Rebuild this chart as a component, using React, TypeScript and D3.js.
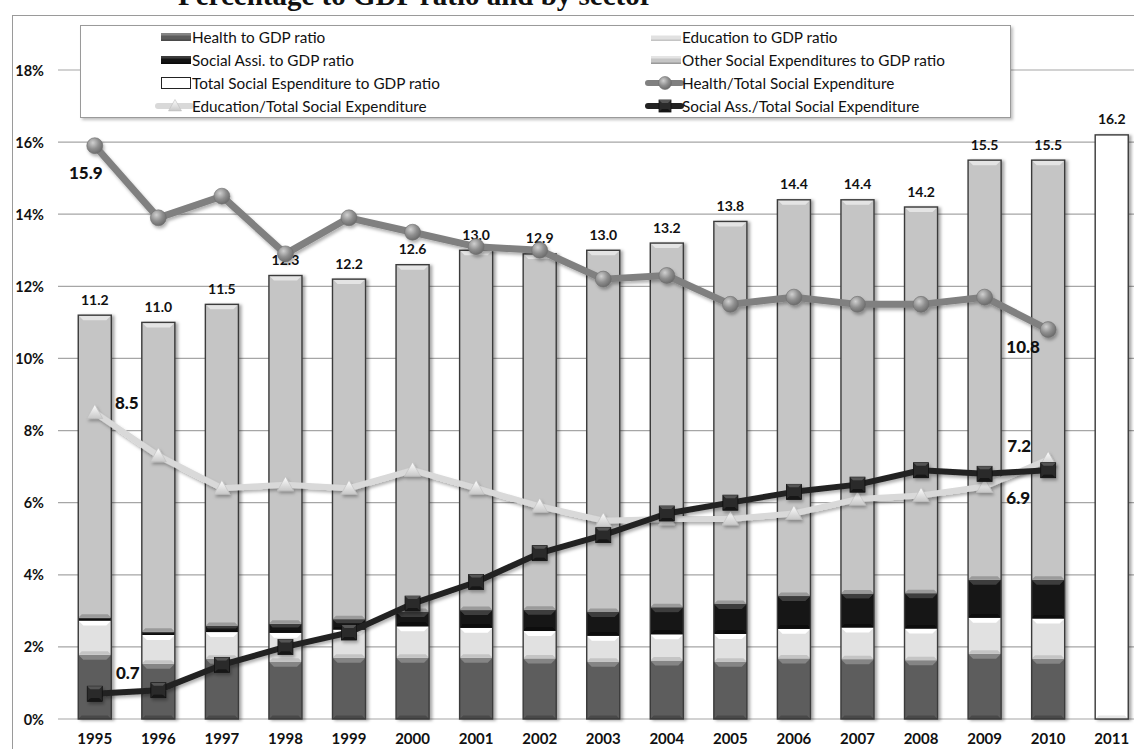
import React from "react";
import * as d3 from "d3";

// Years on the category axis
const years = [
  "1995", "1996", "1997", "1998", "1999", "2000", "2001", "2002", "2003",
  "2004", "2005", "2006", "2007", "2008", "2009", "2010", "2011",
];

// Total social expenditure to GDP ratio (%), labelled above each bar
const totalRatio = [
  11.2, 11.0, 11.5, 12.3, 12.2, 12.6, 13.0, 12.9, 13.0, 13.2, 13.8, 14.4, 14.4,
  14.2, 15.5, 15.5, 16.2,
];

// Components of the stacked bars, 1995-2010 (% of GDP)
const healthGdp = [
  1.78, 1.53, 1.67, 1.59, 1.7, 1.7, 1.7, 1.68, 1.59, 1.62, 1.59, 1.68, 1.66,
  1.63, 1.81, 1.67,
];
const educationGdp = [
  0.95, 0.8, 0.74, 0.8, 0.78, 0.87, 0.83, 0.76, 0.72, 0.73, 0.77, 0.82, 0.88,
  0.88, 1.0, 1.12,
];
const socialAssiGdp = [
  0.08, 0.09, 0.17, 0.25, 0.29, 0.4, 0.49, 0.59, 0.66, 0.75, 0.83, 0.91, 0.94,
  0.98, 1.05, 1.07,
];
const otherGdp = [
  8.39, 8.58, 8.92, 9.66, 9.43, 9.63, 9.98, 9.87, 10.03, 10.1, 10.61, 10.99,
  10.92, 10.71, 11.64, 11.64,
];

// Shares of total social expenditure (%), 1995-2010
const healthShare = [
  15.9, 13.9, 14.5, 12.9, 13.9, 13.5, 13.1, 13.0, 12.2, 12.3, 11.5, 11.7, 11.5,
  11.5, 11.7, 10.8,
];
const educationShare = [
  8.5, 7.3, 6.4, 6.5, 6.4, 6.9, 6.4, 5.9, 5.5, 5.55, 5.55, 5.7, 6.1, 6.2, 6.45,
  7.2,
];
const socialShare = [
  0.7, 0.8, 1.5, 2.0, 2.4, 3.2, 3.8, 4.6, 5.1, 5.7, 6.0, 6.3, 6.5, 6.9, 6.8,
  6.9,
];

const yTicks = [0, 2, 4, 6, 8, 10, 12, 14, 16, 18];

const titleText = "Percentage to GDP ratio and by sector";

const legendItems = [
  { label: "Health to GDP ratio", kind: "bar", key: "health" },
  { label: "Education to GDP ratio", kind: "bar", key: "education" },
  { label: "Social Assi. to GDP ratio", kind: "bar", key: "social" },
  { label: "Other Social Expenditures to GDP ratio", kind: "bar", key: "other" },
  { label: "Total Social Espenditure to GDP ratio", kind: "bar", key: "total" },
  { label: "Health/Total Social Expenditure", kind: "line", key: "healthLine" },
  { label: "Education/Total Social Expenditure", kind: "line", key: "eduLine" },
  { label: "Social Ass./Total Social Expenditure", kind: "line", key: "socLine" },
];

type SegStyle = { fill: string; light: string; dark: string };

const segStyles: Record<string, SegStyle> = {
  health: { fill: "#5d5d5d", light: "#858585", dark: "#4a4a4a" },
  education: { fill: "#e1e1e1", light: "#ffffff", dark: "#c4c4c4" },
  social: { fill: "#141414", light: "#3c3c3c", dark: "#0a0a0a" },
  other: { fill: "#c5c5c5", light: "#e4e4e4", dark: "#9a9a9a" },
  total: { fill: "#ffffff", light: "#ffffff", dark: "#e6e6e6" },
};

const FONT = "Lato, 'Open Sans', sans-serif";

function Segment({
  x,
  w,
  yTop,
  yBot,
  st,
}: {
  x: number;
  w: number;
  yTop: number;
  yBot: number;
  st: SegStyle;
}) {
  const h = yBot - yTop;
  if (h <= 0) return null;
  const b = Math.min(5, h * 0.4);
  const bb = Math.min(3.5, h * 0.25);
  return (
    <g>
      <rect x={x} y={yTop} width={w} height={h} fill={st.fill} />
      <polygon
        points={`${x},${yTop} ${x + w},${yTop} ${x + w - b},${yTop + b} ${x + b},${yTop + b}`}
        fill={st.light}
      />
      <polygon
        points={`${x},${yBot} ${x + w},${yBot} ${x + w - bb},${yBot - bb} ${x + bb},${yBot - bb}`}
        fill={st.dark}
      />
    </g>
  );
}

function CircleMarker({ cx, cy, r = 8 }: { cx: number; cy: number; r?: number }) {
  return <circle cx={cx} cy={cy} r={r} fill="url(#sphere)" stroke="#6e6e6e" strokeWidth={0.6} />;
}

function TriangleMarker({ cx, cy, s = 8 }: { cx: number; cy: number; s?: number }) {
  const pts = `${cx},${cy - s} ${cx + s},${cy + s * 0.75} ${cx - s},${cy + s * 0.75}`;
  return <polygon points={pts} fill="url(#triGrad)" stroke="#bdbdbd" strokeWidth={0.6} />;
}

function SquareMarker({ cx, cy, s = 7.5 }: { cx: number; cy: number; s?: number }) {
  const i = 3;
  return (
    <g>
      <rect x={cx - s} y={cy - s} width={2 * s} height={2 * s} fill="#2a2a2a" stroke="#111" strokeWidth={0.8} />
      <polygon
        points={`${cx - s},${cy - s} ${cx + s},${cy - s} ${cx + s - i},${cy - s + i} ${cx - s + i},${cy - s + i}`}
        fill="#555"
      />
      <polygon
        points={`${cx - s},${cy + s} ${cx + s},${cy + s} ${cx + s - i},${cy + s - i} ${cx - s + i},${cy + s - i}`}
        fill="#151515"
      />
    </g>
  );
}

export default function App() {
  const W = 1134;
  const H = 749;

  const x = d3
    .scaleBand<string>()
    .domain(years)
    .range([63, 1143.5])
    .paddingInner(0.48)
    .paddingOuter(0.24);
  const y = d3.scaleLinear().domain([0, 18]).range([719, 70]);
  const bw = x.bandwidth();
  const cx = (yr: string) => (x(yr) as number) + bw / 2;

  const stackYears = years.slice(0, healthGdp.length);
  const rows = stackYears.map((yr, i) => ({
    year: yr,
    health: healthGdp[i],
    education: educationGdp[i],
    social: socialAssiGdp[i],
    other: otherGdp[i],
  }));
  const keys = ["health", "education", "social", "other"];
  const stacked = d3.stack<any>().keys(keys)(rows);

  const lineGen = d3
    .line<number>()
    .x((_, i) => cx(stackYears[i]))
    .y((v) => y(v));

  const lastI = stackYears.length - 1;
  const lastX = cx(stackYears[lastI]);

  return (
    <svg
      width={W}
      height={H}
      style={{ position: "absolute", left: 0, top: 0, background: "#fff" }}
    >
      <defs>
        <radialGradient id="sphere" cx="38%" cy="32%" r="70%">
          <stop offset="0%" stopColor="#d0d0d0" />
          <stop offset="55%" stopColor="#8e8e8e" />
          <stop offset="100%" stopColor="#6a6a6a" />
        </radialGradient>
        <linearGradient id="triGrad" x1="0" y1="0" x2="0" y2="1">
          <stop offset="0%" stopColor="#ffffff" />
          <stop offset="100%" stopColor="#c8c8c8" />
        </linearGradient>
        <filter id="barShadow" x="-30%" y="-5%" width="160%" height="110%">
          <feDropShadow dx="2.5" dy="1" stdDeviation="1.6" floodColor="#000" floodOpacity="0.35" />
        </filter>
        <filter id="lineShadow" x="-5%" y="-20%" width="110%" height="140%">
          <feDropShadow dx="1.5" dy="2.5" stdDeviation="1.8" floodColor="#000" floodOpacity="0.3" />
        </filter>
        <filter id="boxShadow" x="-5%" y="-10%" width="110%" height="130%">
          <feDropShadow dx="2" dy="2" stdDeviation="1.5" floodColor="#000" floodOpacity="0.25" />
        </filter>
      </defs>

      {/* title, running off the top of the frame */}
      <text
        x={178}
        y={5}
        fontFamily="'Liberation Serif', 'DejaVu Serif', serif"
        fontWeight="bold"
        fontSize={29}
        fill="#111"
      >
        {titleText}
      </text>

      {/* chart area frame */}
      <line x1={12} y1={15.5} x2={W} y2={15.5} stroke="#9a9a9a" strokeWidth={1} />
      <line x1={12.5} y1={15} x2={12.5} y2={H} stroke="#9a9a9a" strokeWidth={1} />

      {/* gridlines and y ticks */}
      {yTicks.map((t) => (
        <g key={t}>
          <line x1={58} x2={W} y1={y(t)} y2={y(t)} stroke="#a6a6a6" strokeWidth={1.2} />
          <text
            x={44}
            y={y(t)}
            textAnchor="end"
            dominantBaseline="central"
            fontFamily={FONT}
            fontWeight="bold"
            fontSize={14.5}
            fill="#111"
          >
            {t}%
          </text>
        </g>
      ))}

      {/* stacked bars 1995-2010 */}
      <g filter="url(#barShadow)">
        {stackYears.map((yr, i) => {
          const bx = x(yr) as number;
          return (
            <g key={yr}>
              {stacked.map((layer) => {
                const d = layer[i];
                return (
                  <Segment
                    key={layer.key}
                    x={bx}
                    w={bw}
                    yTop={y(d[1])}
                    yBot={y(d[0])}
                    st={segStyles[layer.key]}
                  />
                );
              })}
              <rect
                x={bx}
                y={y(stacked[stacked.length - 1][i][1])}
                width={bw}
                height={y(0) - y(stacked[stacked.length - 1][i][1])}
                fill="none"
                stroke="#3a3a3a"
                strokeWidth={1.4}
              />
            </g>
          );
        })}
        {/* total-only bar for the final year */}
        {years.slice(stackYears.length).map((yr) => {
          const i = years.indexOf(yr);
          const bx = x(yr) as number;
          return (
            <g key={yr}>
              <Segment x={bx} w={bw} yTop={y(totalRatio[i])} yBot={y(0)} st={segStyles.total} />
              <rect
                x={bx}
                y={y(totalRatio[i])}
                width={bw}
                height={y(0) - y(totalRatio[i])}
                fill="none"
                stroke="#3a3a3a"
                strokeWidth={1.4}
              />
            </g>
          );
        })}
      </g>

      {/* total labels */}
      {years.map((yr, i) => (
        <text
          key={yr}
          x={cx(yr)}
          y={y(totalRatio[i]) - 16}
          textAnchor="middle"
          dominantBaseline="central"
          fontFamily={FONT}
          fontWeight="bold"
          fontSize={14}
          fill="#111"
        >
          {totalRatio[i].toFixed(1)}
        </text>
      ))}

      {/* share lines */}
      <g filter="url(#lineShadow)">
        <path d={lineGen(healthShare) || ""} fill="none" stroke="#808080" strokeWidth={7} strokeLinejoin="round" />
        {healthShare.map((v, i) => (
          <CircleMarker key={i} cx={cx(stackYears[i])} cy={y(v)} />
        ))}
      </g>
      <g filter="url(#lineShadow)">
        <path d={lineGen(educationShare) || ""} fill="none" stroke="#d9d9d9" strokeWidth={6} strokeLinejoin="round" />
        {educationShare.map((v, i) => (
          <TriangleMarker key={i} cx={cx(stackYears[i])} cy={y(v)} />
        ))}
      </g>
      <g filter="url(#lineShadow)">
        <path d={lineGen(socialShare) || ""} fill="none" stroke="#222" strokeWidth={6} strokeLinejoin="round" />
        {socialShare.map((v, i) => (
          <SquareMarker key={i} cx={cx(stackYears[i])} cy={y(v)} />
        ))}
      </g>

      {/* first and last values of each share line */}
      {[
        { v: healthShare[0], px: cx(stackYears[0]) - 9, py: y(healthShare[0]) + 27 },
        { v: educationShare[0], px: cx(stackYears[0]) + 32, py: y(educationShare[0]) - 10 },
        { v: socialShare[0], px: cx(stackYears[0]) + 33, py: y(socialShare[0]) - 21 },
        { v: healthShare[lastI], px: lastX - 25, py: y(healthShare[lastI]) + 17 },
        { v: educationShare[lastI], px: lastX - 29, py: y(educationShare[lastI]) - 14 },
        { v: socialShare[lastI], px: lastX - 30, py: y(socialShare[lastI]) + 27 },
      ].map((l, k) => (
        <text
          key={k}
          x={l.px}
          y={l.py}
          textAnchor="middle"
          dominantBaseline="central"
          fontFamily={FONT}
          fontWeight="900"
          fontSize={17}
          fill="#111"
        >
          {l.v.toFixed(1)}
        </text>
      ))}

      {/* year labels */}
      {years.map((yr) => (
        <text
          key={yr}
          x={cx(yr)}
          y={738}
          textAnchor="middle"
          dominantBaseline="central"
          fontFamily={FONT}
          fontWeight="bold"
          fontSize={15}
          fill="#111"
        >
          {yr}
        </text>
      ))}

      {/* legend */}
      <rect x={80.5} y={25.5} width={930} height={92} fill="#fff" stroke="#9a9a9a" filter="url(#boxShadow)" />
      {legendItems.map((it, k) => {
        const col = k % 2;
        const row = Math.floor(k / 2);
        const sx = col === 0 ? 160 : 650;
        const ty = 37 + row * 23;
        let sym: React.ReactNode = null;
        if (it.kind === "bar") {
          const st = segStyles[it.key];
          if (it.key === "total") {
            sym = <rect x={sx + 1.5} y={ty - 5.5} width={29} height={11} fill="#fff" stroke="#222" strokeWidth={1} />;
          } else {
            sym = (
              <g>
                <rect x={sx + 1} y={ty - 4} width={30} height={8} fill={st.fill} />
                <rect x={sx + 1} y={ty - 4} width={30} height={2.5} fill={st.light} />
                <rect x={sx + 1} y={ty + 2.5} width={30} height={1.5} fill={st.dark} />
              </g>
            );
          }
        } else {
          const mx = sx + 15;
          if (it.key === "healthLine") {
            sym = (
              <g>
                <line x1={sx - 2} x2={sx + 31} y1={ty} y2={ty} stroke="#808080" strokeWidth={6} strokeLinecap="round" />
                <CircleMarker cx={mx} cy={ty} r={6.5} />
              </g>
            );
          } else if (it.key === "eduLine") {
            sym = (
              <g>
                <line x1={sx - 2} x2={sx + 31} y1={ty} y2={ty} stroke="#d9d9d9" strokeWidth={6} strokeLinecap="round" />
                <TriangleMarker cx={mx} cy={ty} s={6.5} />
              </g>
            );
          } else {
            sym = (
              <g>
                <line x1={sx - 2} x2={sx + 31} y1={ty} y2={ty} stroke="#222" strokeWidth={6} strokeLinecap="round" />
                <SquareMarker cx={mx} cy={ty} s={6} />
              </g>
            );
          }
        }
        return (
          <g key={it.key}>
            {sym}
            <text
              x={sx + 32}
              y={ty}
              dominantBaseline="central"
              fontFamily={FONT}
              fontSize={15.3}
              fill="#111"
            >
              {it.label}
            </text>
          </g>
        );
      })}
    </svg>
  );
}
